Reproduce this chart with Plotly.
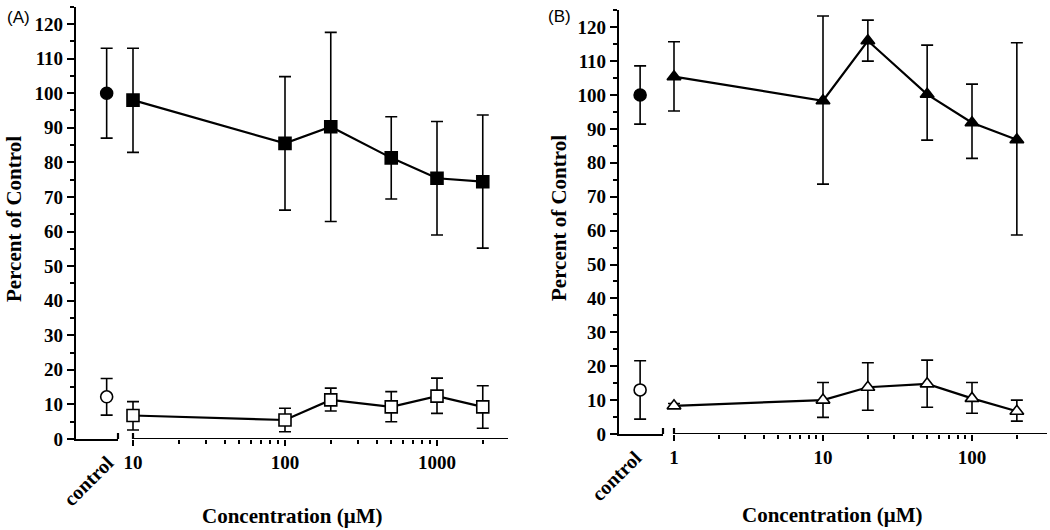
import plotly.graph_objects as go

W, H = 1050, 530

# ---------------- data ----------------
# Panel A
a_ctrl_x = [0.73]
a_ctrl_hi_mean = [100.0]
a_ctrl_hi_top = [113.0]
a_ctrl_hi_bot = [87.0]
a_ctrl_lo_mean = [12.2]
a_ctrl_lo_top = [17.5]
a_ctrl_lo_bot = [6.9]

a_conc = [10, 100, 200, 500, 1000, 2000]
a_hi_mean = [98.0, 85.5, 90.3, 81.3, 75.4, 74.4]
a_hi_top = [113.0, 104.8, 117.6, 93.2, 91.8, 93.7]
a_hi_bot = [82.9, 66.2, 62.9, 69.4, 59.0, 55.2]
a_lo_mean = [6.8, 5.5, 11.3, 9.3, 12.4, 9.3]
a_lo_top = [10.8, 8.9, 14.7, 13.7, 17.6, 15.4]
a_lo_bot = [2.6, 2.1, 8.1, 5.0, 7.4, 3.1]

# Panel B
b_ctrl_x = [0.48]
b_ctrl_hi_mean = [100.0]
b_ctrl_hi_top = [108.6]
b_ctrl_hi_bot = [91.4]
b_ctrl_lo_mean = [13.0]
b_ctrl_lo_top = [21.6]
b_ctrl_lo_bot = [4.4]

b_conc = [1, 10, 20, 50, 100, 200]
b_hi_mean = [105.4, 98.3, 116.0, 100.2, 91.8, 86.8]
b_hi_top = [115.7, 123.3, 122.1, 114.7, 103.2, 115.4]
b_hi_bot = [95.3, 73.7, 110.0, 86.7, 81.3, 58.7]
b_lo_mean = [8.3, 10.0, 13.8, 14.8, 10.5, 6.7]
b_lo_top = [9.0, 15.2, 21.0, 21.8, 15.2, 10.0]
b_lo_bot = [7.6, 4.9, 7.0, 7.9, 6.1, 3.8]

y_ticks = [0, 10, 20, 30, 40, 50, 60, 70, 80, 90, 100, 110, 120]
y_tick_text = ["0", "10", "20", "30", "40", "50", "60", "70", "80", "90", "100", "110", "120"]
a_major = [10, 100, 1000]
a_major_text = ["10", "100", "1000"]
a_minor = [20, 30, 40, 50, 60, 70, 80, 90, 200, 300, 400, 500, 600, 700, 800, 900, 2000]
b_major = [1, 10, 100]
b_major_text = ["1", "10", "100"]
b_minor = [2, 3, 4, 5, 6, 7, 8, 9, 20, 30, 40, 50, 60, 70, 80, 90, 200]
ctrl_label = "control"

# ---------------- helpers ----------------
def px_x(p):
    return p / W

def px_y(p):
    return 1 - p / H

def bold(lst):
    return ["<b>%s</b>" % s for s in lst]

def err(mean, top, bot):
    return (dict(type="data", symmetric=False,
                 array=[t - m for t, m in zip(top, mean)],
                 arrayminus=[m - b for m, b in zip(mean, bot)],
                 color="black", thickness=1.6, width=6))

def trace(x, mean, top, bot, symbol, fill, xa, ya):
    return go.Scatter(
        x=x, y=mean, xaxis=xa, yaxis=ya, mode="lines+markers",
        line=dict(color="black", width=2.2),
        marker=dict(symbol=symbol, size=12, color=fill,
                    line=dict(color="black", width=1.6)),
        error_y=err(mean, top, bot), showlegend=False, cliponaxis=False)

fig = go.Figure()
# Panel A
fig.add_trace(trace(a_ctrl_x, a_ctrl_hi_mean, a_ctrl_hi_top, a_ctrl_hi_bot, "circle", "black", "x", "y"))
fig.add_trace(trace(a_ctrl_x, a_ctrl_lo_mean, a_ctrl_lo_top, a_ctrl_lo_bot, "circle", "white", "x", "y"))
fig.add_trace(trace(a_conc, a_hi_mean, a_hi_top, a_hi_bot, "square", "black", "x2", "y"))
fig.add_trace(trace(a_conc, a_lo_mean, a_lo_top, a_lo_bot, "square", "white", "x2", "y"))
# Panel B
fig.add_trace(trace(b_ctrl_x, b_ctrl_hi_mean, b_ctrl_hi_top, b_ctrl_hi_bot, "circle", "black", "x3", "y2"))
fig.add_trace(trace(b_ctrl_x, b_ctrl_lo_mean, b_ctrl_lo_top, b_ctrl_lo_bot, "circle", "white", "x3", "y2"))
fig.add_trace(trace(b_conc, b_hi_mean, b_hi_top, b_hi_bot, "triangle-up", "black", "x4", "y2"))
fig.add_trace(trace(b_conc, b_lo_mean, b_lo_top, b_lo_bot, "triangle-up", "white", "x4", "y2"))

tickfont = dict(family="Liberation Serif", size=19, color="black")
LW = 2.2

common_x = dict(showline=True, linecolor="black", linewidth=LW, showgrid=False,
                zeroline=False, tickfont=tickfont, ticks="outside", tickwidth=2,
                ticklen=6, tickcolor="black", automargin=False)
common_y = dict(showline=True, linecolor="black", linewidth=LW, showgrid=False,
                zeroline=False, tickfont=tickfont, ticks="outside", tickwidth=2,
                ticklen=7, tickcolor="black", range=[0, 125], tickmode="array",
                tickvals=y_ticks, ticktext=bold(y_tick_text), automargin=False,
                minor=dict(ticks="outside", ticklen=4, tickwidth=1.6,
                           tickcolor="black", tickmode="linear", dtick=5, tick0=0,
                           showgrid=False))

# log axis geometry (pixels)
A_LOG_START, A_LOG_END, A_DEC = 133, 508, 152.0
B_LOG_START, B_LOG_END, B_DEC = 674, 1047, 149.0
PAD = 12  # extra room so first error-bar caps are not clipped

fig.update_layout(
    width=W, height=H, margin=dict(l=0, r=0, t=0, b=0, pad=0, autoexpand=False),
    paper_bgcolor="white", plot_bgcolor="white", showlegend=False,
    xaxis=dict(common_x, domain=[px_x(76), px_x(118)], range=[0, 1], anchor="y",
               showticklabels=False, ticks=""),
    xaxis2=dict(common_x, showline=False,
                domain=[px_x(A_LOG_START - PAD), px_x(A_LOG_END)], type="log",
                range=[1 - PAD / A_DEC, 1 + (A_LOG_END - A_LOG_START) / A_DEC],
                anchor="y", tickmode="array",
                tickvals=a_major, ticktext=bold(a_major_text),
                minor=dict(ticks="outside", ticklen=4, tickwidth=1.6,
                           tickcolor="black", tickmode="array",
                           tickvals=a_minor, showgrid=False)),
    yaxis=dict(common_y, domain=[px_y(439), px_y(439 - 125 * 3.458)], anchor="x"),
    xaxis3=dict(common_x, domain=[px_x(619), px_x(663)], range=[0, 1], anchor="y2",
                showticklabels=False, ticks=""),
    xaxis4=dict(common_x, showline=False,
                domain=[px_x(B_LOG_START - PAD), px_x(B_LOG_END)], type="log",
                range=[0 - PAD / B_DEC, (B_LOG_END - B_LOG_START) / B_DEC],
                anchor="y2", tickmode="array",
                tickvals=b_major, ticktext=bold(b_major_text),
                minor=dict(ticks="outside", ticklen=4, tickwidth=1.6,
                           tickcolor="black", tickmode="array",
                           tickvals=b_minor, showgrid=False)),
    yaxis2=dict(common_y, domain=[px_y(434), px_y(434 - 125 * 3.39)], anchor="x3"),
)

# log-axis baselines (start exactly at first concentration)
for yr, x0, x1 in [("y", A_LOG_START, A_LOG_END), ("y2", B_LOG_START, B_LOG_END)]:
    fig.add_shape(type="line", xref="paper", yref=yr, x0=px_x(x0), x1=px_x(x1),
                  y0=0, y1=0, line=dict(color="black", width=LW))

# axis-break end ticks
for xp, yr in [(118, "y"), (A_LOG_START, "y"), (663, "y2"), (B_LOG_START, "y2")]:
    fig.add_shape(type="line", xref="paper", yref=yr, x0=px_x(xp), x1=px_x(xp),
                  ysizemode="pixel", yanchor=0, y0=-6, y1=6,
                  line=dict(color="black", width=LW))

title_font = dict(family="Liberation Serif", size=21, color="black")
panel_font = dict(family="Liberation Sans", size=17, color="black")
ctrl_font = dict(family="Liberation Serif", size=20, color="black")

annos = [
    dict(text="(A)", x=px_x(5), y=px_y(18), xanchor="left", yanchor="middle", font=panel_font),
    dict(text="(B)", x=px_x(546), y=px_y(17), xanchor="left", yanchor="middle", font=panel_font),
    dict(text="<b>Percent of Control</b>", x=px_x(14), y=px_y(219), textangle=-90,
         xanchor="center", yanchor="middle", font=title_font),
    dict(text="<b>Percent of Control</b>", x=px_x(559), y=px_y(218), textangle=-90,
         xanchor="center", yanchor="middle", font=title_font),
    dict(text="<b>Concentration (μM)</b>", x=px_x(292), y=px_y(516),
         xanchor="center", yanchor="middle", font=title_font),
    dict(text="<b>Concentration (μM)</b>", x=px_x(832), y=px_y(515),
         xanchor="center", yanchor="middle", font=title_font),
    dict(text="<b>%s</b>" % ctrl_label, x=px_x(88), y=px_y(481), textangle=-45,
         xanchor="center", yanchor="middle", font=ctrl_font),
    dict(text="<b>%s</b>" % ctrl_label, x=px_x(616), y=px_y(476), textangle=-45,
         xanchor="center", yanchor="middle", font=ctrl_font),
]
for a in annos:
    fig.add_annotation(xref="paper", yref="paper", showarrow=False, **a)

fig.write_html("out.html", config={"displayModeBar": False},
               post_script="document.body.style.margin='0';"
                           "document.body.style.overflow='hidden';")
